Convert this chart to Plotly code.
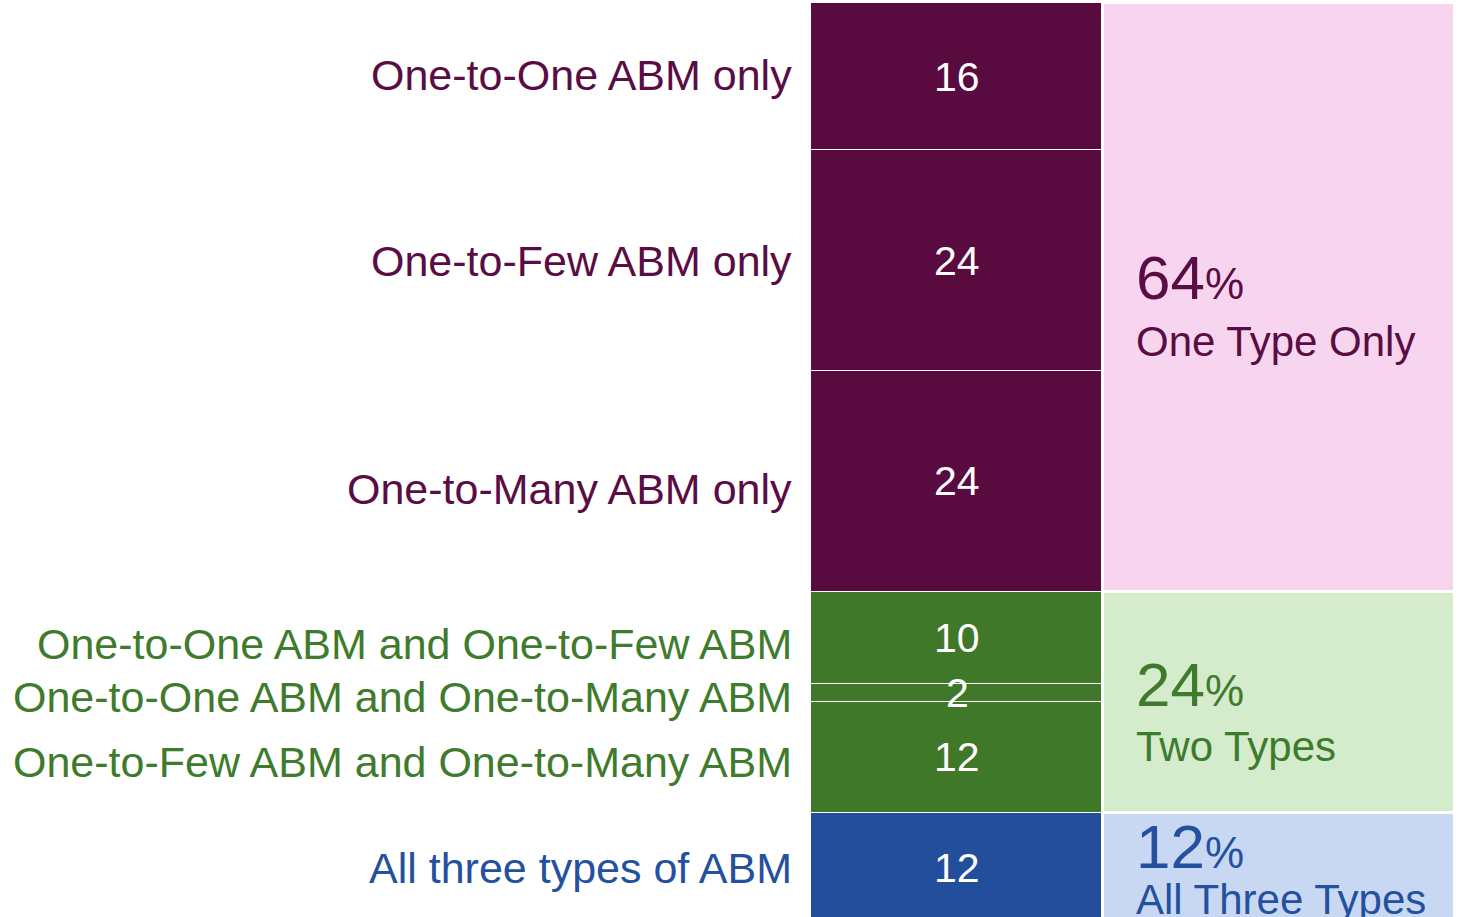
import numpy as np
import plotly.graph_objects as go

# ─── Dados ────────────────────────────────────────────────────────────────
categorias = [
    "One-to-One ABM only",
    "One-to-Few ABM only",
    "One-to-Many ABM only",
    "One-to-One ABM and One-to-Few ABM",
    "One-to-One ABM and One-to-Many ABM",
    "One-to-Few ABM and One-to-Many ABM",
    "All three types of ABM",
]
valores = [16, 24, 24, 10, 2, 12, 12]
grupo_de = [0, 0, 0, 1, 1, 1, 2]

grupos = ["One Type Only", "Two Types", "All Three Types"]
grupos_pct = [64, 24, 12]

# ─── Estilo ───────────────────────────────────────────────────────────────
FONT = "Arial, 'Liberation Sans', sans-serif"
COR_ESCURA = ["#590B40", "#3E7828", "#224E9B"]
COR_TEXTO = ["#5A0D44", "#3E7B2C", "#2450A0"]
COR_CLARA = ["#F8D5EF", "#D4ECCB", "#C9D8F2"]

X_DET, W_DET = 957, 292
X_GRP, W_GRP = 1278.5, 352
X_LABEL = 794
X_GRP_TXT = 1134
# pequenos ajustes verticais dos rótulos (px)
desloc_rot = [2, 0, -8, -6, -4, -5, 0]

fig = go.Figure()

# coluna de detalhe
for cat, v, g in zip(categorias, valores, grupo_de):
    fig.add_trace(go.Bar(
        x=[X_DET], y=[v], width=[W_DET], name=cat,
        marker=dict(color=COR_ESCURA[g], line=dict(color="white", width=1)),
        hoverinfo="skip", showlegend=False,
    ))

# coluna de grupos
for i, (nome, p) in enumerate(zip(grupos, grupos_pct)):
    fig.add_trace(go.Bar(
        x=[X_GRP], y=[p], width=[W_GRP], name=nome,
        marker=dict(color=COR_CLARA[i], line=dict(color="white", width=3)),
        hoverinfo="skip", showlegend=False,
    ))

# rótulos e valores
acum = np.cumsum(valores)
centros = acum - np.array(valores) / 2
for k, (cat, v, g, c) in enumerate(zip(categorias, valores, grupo_de, centros)):
    fig.add_annotation(
        x=X_LABEL, y=c, xref="x", yref="y", text=cat, showarrow=False,
        xanchor="right", yanchor="middle", yshift=desloc_rot[k],
        font=dict(family=FONT, size=43, color=COR_TEXTO[g]),
    )
    fig.add_annotation(
        x=X_DET, y=c, xref="x", yref="y", text=str(v), showarrow=False,
        xanchor="center", yanchor="middle",
        font=dict(family=FONT, size=41, color="white"),
    )

acum_g = np.cumsum(grupos_pct)
centros_g = acum_g - np.array(grupos_pct) / 2
desloc_num = [20, 18, 21]
desloc_txt = [-44, -44, -32]
for i, (nome, p, c) in enumerate(zip(grupos, grupos_pct, centros_g)):
    fig.add_annotation(
        x=X_GRP_TXT, y=c, xref="x", yref="y",
        text=f"<span style='font-size:62px'>{p}</span>%",
        showarrow=False, xanchor="left", yanchor="middle", yshift=desloc_num[i],
        font=dict(family=FONT, size=44, color=COR_TEXTO[i]),
    )
    fig.add_annotation(
        x=X_GRP_TXT, y=c, xref="x", yref="y", text=nome,
        showarrow=False, xanchor="left", yanchor="middle", yshift=desloc_txt[i],
        font=dict(family=FONT, size=42, color=COR_TEXTO[i]),
    )

fig.update_layout(
    barmode="stack",
    width=1460, height=917,
    paper_bgcolor="white", plot_bgcolor="white",
    margin=dict(l=0, r=0, t=3, b=0),
    bargap=0,
    xaxis=dict(range=[0, 1460], visible=False, fixedrange=True),
    yaxis=dict(range=[99.35, 0], visible=False, fixedrange=True),
    showlegend=False,
)

# sem margem do body, para a figura ocupar a janela inteira
fig.write_html(
    "out.html",
    config={"displayModeBar": False},
    post_script="document.body.style.margin='0';",
)
